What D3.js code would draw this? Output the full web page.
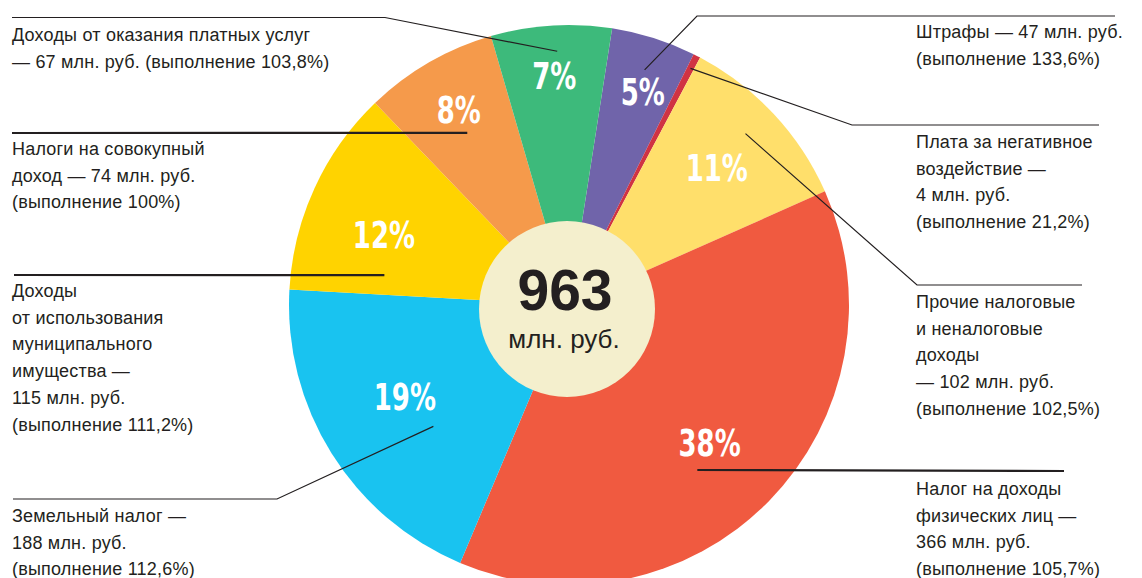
<!DOCTYPE html>
<html>
<head>
<meta charset="utf-8">
<script src="https://cdn.jsdelivr.net/npm/d3@7"></script>
<style>
  body { margin: 0; background: #fff; }
  svg { display: block; }
  .note { font-family: 'Liberation Sans', Arial, sans-serif; font-size: 18px; letter-spacing: 0.2px; fill: #231f20; }
  .pct { font-family: 'DejaVu Sans Condensed', 'DejaVu Sans', sans-serif; font-weight: bold; font-size: 37px; fill: #fff; }
</style>
</head>
<body>
<div id="chart"></div>
<script>
// доходы бюджета, млн. руб. (по часовой стрелке от "Штрафы")
var categories = ['Штрафы', 'Плата за негативное воздействие', 'Прочие налоговые и неналоговые доходы',
  'Налог на доходы физических лиц', 'Земельный налог', 'Доходы от использования муниципального имущества',
  'Налоги на совокупный доход', 'Доходы от оказания платных услуг'];
var values = [47, 4, 102, 366, 188, 115, 74, 67];
var pctLabels = ['5%', '', '11%', '38%', '19%', '12%', '8%', '7%'];
var colors = ['#7064aa', '#d03343', '#ffdf6b', '#f05a40', '#19c3f0', '#ffd300', '#f59a4b', '#3dba7b'];
var totalLabel = '963';
var unitLabel = 'млн. руб.';

var labelLines = [
  ['Штрафы — 47 млн. руб.', '(выполнение 133,6%)'],
  ['Плата за негативное', 'воздействие —', '4 млн. руб.', '(выполнение 21,2%)'],
  ['Прочие налоговые', 'и неналоговые', 'доходы', '— 102 млн. руб.', '(выполнение 102,5%)'],
  ['Налог на доходы', 'физических лиц —', '366 млн. руб.', '(выполнение 105,7%)'],
  ['Земельный налог —', '188 млн. руб.', '(выполнение 112,6%)'],
  ['Доходы', 'от использования', 'муниципального', 'имущества —', '115 млн. руб.', '(выполнение 111,2%)'],
  ['Налоги на совокупный', 'доход — 74 млн. руб.', '(выполнение 100%)'],
  ['Доходы от оказания платных услуг', '— 67 млн. руб. (выполнение 103,8%)']
];

// layout of the callouts: text position, outer leader points, where the leader ends inside the slice
var callouts = [
  {x: 916, y: 38,  pts: [[1115, 16], [697, 16]],  t: 0.51, r: 247, w: 1.2},
  {x: 916, y: 148, pts: [[1099, 125], [852, 125]], t: 0.5, r: 266, w: 1.2},
  {x: 916, y: 308, pts: [[1082, 285], [917, 285]], t: 0.47, r: 246, w: 1.2},
  {x: 916, y: 495, pts: [[1064, 471]],             t: 0.556, r: 209, w: 2.2},
  {x: 12,  y: 522, pts: [[13, 499], [277, 499]],   t: 0.36, r: 182, w: 1.2},
  {x: 12,  y: 297, pts: [[14, 275]],               t: 0.14, r: 187, w: 2.2},
  {x: 12,  y: 155, pts: [[12, 133]],               t: 0.48, r: 200, w: 2.2},
  {x: 12,  y: 41,  pts: [[12, 17.5], [385, 17.5]], t: 0.54, r: 254, w: 1.2}
];
// position of the % label inside each slice (fraction of the slice angle, radius)
var pctPos = [
  {t: 0.58, r: 226}, {t: 0.5, r: 0}, {t: 0.5, r: 202}, {t: 0.5, r: 197},
  {t: 0.54, r: 188}, {t: 0.41, r: 198}, {t: 0.52, r: 224}, {t: 0.5, r: 230}
];

var width = 1142, height = 578;
var cx = 569, cy = 305, radius = 280;
var lineGap = 26.7;
var startA = 8.86 * Math.PI / 180;

var svg = d3.select('#chart').append('svg')
  .attr('width', width)
  .attr('height', height);

var pie = d3.pie().sort(null).value(function(d) { return d; })
  .startAngle(startA).endAngle(startA + 2 * Math.PI);
var arcs = pie(values);

var arc = d3.arc().innerRadius(0).outerRadius(radius);

var g = svg.append('g').attr('transform', 'translate(' + cx + ',' + cy + ')');

g.selectAll('path.slice')
  .data(arcs)
  .enter()
  .append('path')
  .attr('class', 'slice')
  .attr('d', arc)
  .style('fill', function(d, i) { return colors[i]; });

var polar = function(a, r) {
  return [cx + r * Math.sin(a), cy - r * Math.cos(a)];
};
var sliceAngle = function(d, t) {
  return d.startAngle + (d.endAngle - d.startAngle) * t;
};

// центр
svg.append('circle')
  .attr('cx', 567)
  .attr('cy', 309)
  .attr('r', 88)
  .style('fill', '#f4efcd');

svg.append('text')
  .attr('x', 565)
  .attr('y', 310)
  .attr('text-anchor', 'middle')
  .style('font-family', "'Liberation Sans', Arial, sans-serif")
  .style('font-weight', 'bold')
  .style('font-size', '57px')
  .style('fill', '#231f20')
  .text(totalLabel);

svg.append('text')
  .attr('x', 564)
  .attr('y', 348)
  .attr('text-anchor', 'middle')
  .style('font-family', "'Liberation Sans', Arial, sans-serif")
  .style('font-size', '26px')
  .style('fill', '#231f20')
  .text(unitLabel);

// проценты (узкий шрифт — сжимаем по горизонтали)
svg.selectAll('text.pct')
  .data(arcs)
  .enter()
  .append('text')
  .attr('class', 'pct')
  .attr('text-anchor', 'middle')
  .attr('dy', '0.36em')
  .attr('transform', function(d, i) {
    var p = polar(sliceAngle(d, pctPos[i].t), pctPos[i].r);
    return 'translate(' + p[0] + ',' + p[1] + ') scale(0.78,1)';
  })
  .text(function(d, i) { return pctLabels[i]; });

// выноски
var line = d3.line();
arcs.forEach(function(d, i) {
  var c = callouts[i];
  var pts = c.pts.concat([polar(sliceAngle(d, c.t), c.r)]);
  svg.append('path')
    .attr('d', line(pts))
    .style('fill', 'none')
    .style('stroke', '#231f20')
    .style('stroke-width', c.w);

  var txt = svg.append('text')
    .attr('class', 'note')
    .attr('x', c.x)
    .attr('y', c.y);
  labelLines[i].forEach(function(s, k) {
    txt.append('tspan')
      .attr('x', c.x)
      .attr('y', c.y + k * lineGap)
      .text(s);
  });
});
</script>
</body>
</html>
